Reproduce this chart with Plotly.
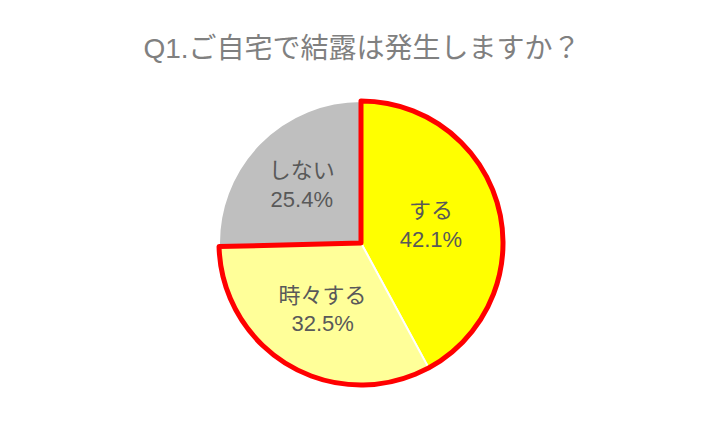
import plotly.graph_objects as go

categories = ["する", "時々する", "しない"]
values = [42.1, 32.5, 25.4]
colors = ["#FFFF00", "#FFFF99", "#BFBFBF"]
title_text = "Q1.ご自宅で結露は発生しますか？"

FONT = "Liberation Sans, Arial, Noto Sans CJK JP, sans-serif"

W, H = 724, 433
OFF = 8  # page body margin
cx, cy, r = 361 - OFF, 243 - OFF, 142
dom_x = [(cx - r) / W, (cx + r) / W]
dom_y = [(H - cy - r) / H, (H - cy + r) / H]

labels_text = [f"{c}<br>{v:.1f}%" for c, v in zip(categories, values)]

fig = go.Figure()
fig.add_trace(go.Pie(
    labels=categories,
    values=values,
    sort=False,
    direction="clockwise",
    rotation=0,
    marker=dict(colors=colors, line=dict(color="white", width=2)),
    text=labels_text,
    textinfo="text",
    textposition="inside",
    insidetextorientation="horizontal",
    textfont=dict(family=FONT, size=22, color="#595959"),
    domain=dict(x=dom_x, y=dom_y),
    showlegend=False,
    hoverinfo="skip",
))

# Red outline around the "する" + "時々する" group
group_vals = [values[0] + values[1], values[2]]
fig.add_trace(go.Pie(
    labels=["grp", "rest"],
    values=group_vals,
    sort=False,
    direction="clockwise",
    rotation=0,
    marker=dict(colors=["rgba(0,0,0,0)", "rgba(0,0,0,0)"],
                line=dict(color=["#FF0000", "rgba(0,0,0,0)"], width=[5, 0])),
    textinfo="none",
    domain=dict(x=dom_x, y=dom_y),
    showlegend=False,
    hoverinfo="skip",
))

fig.update_layout(
    width=W, height=H,
    margin=dict(l=0, r=0, t=0, b=0),
    paper_bgcolor="white",
    plot_bgcolor="white",
    title=dict(text=title_text, x=(362 - OFF) / W, xanchor="center", y=1 - (48 - OFF) / H, yanchor="middle",
               font=dict(family=FONT, size=28, color="#808080")),
)

fig.write_html("out.html")
